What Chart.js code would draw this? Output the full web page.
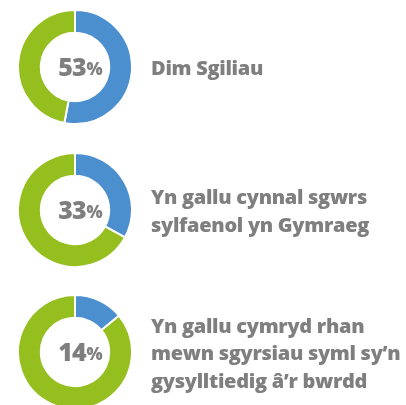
<!DOCTYPE html>
<html>
<head>
<meta charset="utf-8">
<script src="https://cdn.jsdelivr.net/npm/chart.js@4.4.0/dist/chart.umd.min.js"></script>
<style>
  html, body { margin: 0; padding: 0; background: #fff; }
  body { width: 406px; height: 405px; position: relative; overflow: hidden;
         font-family: "Open Sans", Lato, sans-serif; color: #7f7f80; }
  .row { position: absolute; left: 0; width: 406px; height: 142px; }
  .donut { position: absolute; left: 17px; top: 13px; width: 116px; height: 116px; }
  .pct { position: absolute; left: 17px; top: 12px; width: 126px; height: 116px;
         display: flex; align-items: center; justify-content: center;
         font-weight: 800; font-size: 25px; letter-spacing: -1px; }
  .pct small { font-size: 17px; font-weight: 800; margin-left: 1px; margin-top: 5px; }
  .label { position: absolute; left: 151px; top: 1px; height: 142px; width: 255px;
           display: flex; flex-direction: column; justify-content: center;
           font-weight: 800; font-size: 20px; letter-spacing: -0.3px;
           line-height: 27.5px; white-space: nowrap; }
</style>
</head>
<body>
<script>
// percentages of each group (blue) and the rest (green)
const categories = [
  ['Dim Sgiliau'],
  ['Yn gallu cynnal sgwrs', 'sylfaenol yn Gymraeg'],
  ['Yn gallu cymryd rhan', 'mewn sgyrsiau syml sy\u2019n', 'gysylltiedig \u00e2\u2019r bwrdd']
];
const shareValues = [53, 33, 14];
const restValues = [47, 67, 86];
const rowTops = [-4, 138.5, 281];

const blue = '#4b8fcf';
const green = '#95bf1f';

categories.forEach((lines, i) => {
  const row = document.createElement('div');
  row.className = 'row';
  row.style.top = rowTops[i] + 'px';

  const holder = document.createElement('div');
  holder.className = 'donut';
  const canvas = document.createElement('canvas');
  canvas.width = 116; canvas.height = 116;
  holder.appendChild(canvas);
  row.appendChild(holder);

  const pct = document.createElement('div');
  pct.className = 'pct';
  pct.innerHTML = shareValues[i] + '<small>%</small>';
  row.appendChild(pct);

  const label = document.createElement('div');
  label.className = 'label';
  label.innerHTML = lines.map(l => '<div>' + l + '</div>').join('');
  row.appendChild(label);

  document.body.appendChild(row);

  new Chart(canvas.getContext('2d'), {
    type: 'doughnut',
    data: {
      labels: ['share', 'rest'],
      datasets: [{
        data: [shareValues[i], restValues[i]],
        backgroundColor: [blue, green],
        borderColor: '#ffffff',
        borderWidth: 2,
      }],
    },
    options: {
      responsive: false,
      animation: false,
      cutout: '60%',
      layout: { padding: 0 },
      plugins: { legend: { display: false }, tooltip: { enabled: false } },
    },
  });
});
</script>
</body>
</html>
